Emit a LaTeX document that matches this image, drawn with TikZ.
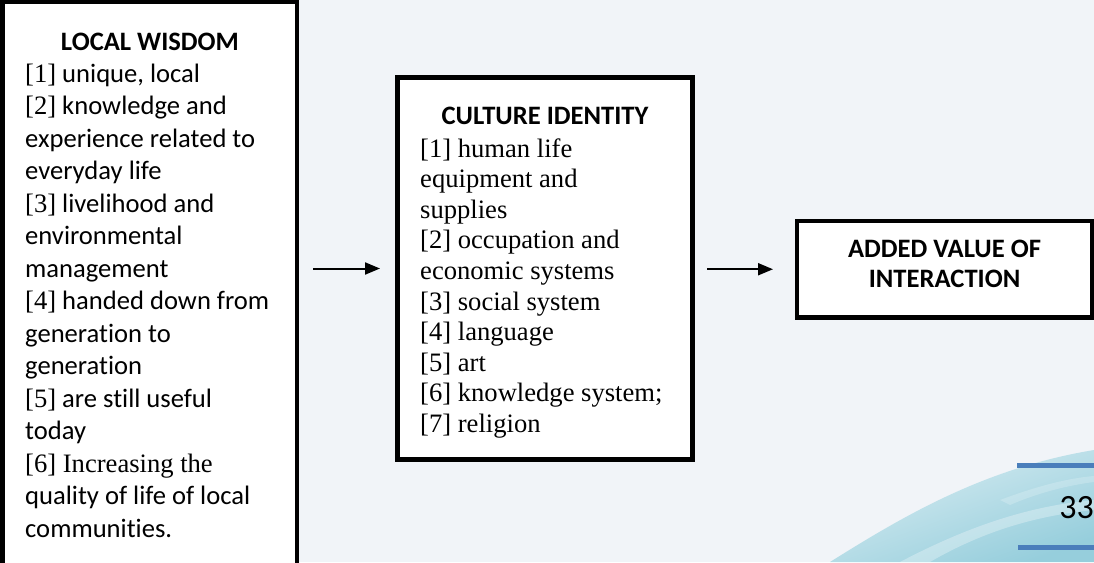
\documentclass[tikz,border=0pt]{standalone}
\usepackage{fontspec}
\setmainfont{Carlito}[Ligatures=NoCommon]
\newfontfamily\tnr{Liberation Serif}[Ligatures=NoCommon]
\usetikzlibrary{arrows.meta}

\definecolor{slidebg}{RGB}{241,244,248}
\definecolor{rulerblue}{RGB}{74,126,187}
\definecolor{waveA}{RGB}{222,239,244}
\definecolor{waveB}{RGB}{150,206,220}

\begin{document}
\begin{tikzpicture}[x=1pt,y=-1pt,
  panel/.style={draw=black, line width=4.5pt, fill=white, inner sep=0pt,
    outer sep=0pt, line join=miter},
  heading/.style={anchor=base, inner sep=0pt, font=\fontsize{26.6}{32}\selectfont\bfseries},
  item/.style={anchor=base west, inner sep=0pt, font=\fontsize{26.6}{32}\selectfont},
  titem/.style={item, font=\fontsize{26.6}{32}\selectfont\tnr},
  flow/.style={line width=2pt, -{Triangle[length=15pt,width=12pt]}},
  ruler/.style={draw=rulerblue, line width=5.6pt}]

% slide background
\useasboundingbox (0,0) rectangle (1094,562);
\clip (0,0) rectangle (1094,562);
\fill[slidebg] (0,0) rectangle (1094,562);

% decorative wave in the lower right corner
\begin{scope}
  \clip (830,562) .. controls (905,515) and (985,468) .. (1094,450) -- (1094,562) -- cycle;
  \shade[top color=waveA, bottom color=waveB, shading angle=20] (830,440) rectangle (1094,562);
  \fill[white, opacity=0.3] (900,562) .. controls (980,520) and (1040,505) .. (1094,500)
    -- (1094,510) .. controls (1040,515) and (985,530) .. (930,562) -- cycle;
  \fill[white, opacity=0.2] (1000,500) .. controls (1040,485) and (1070,478) .. (1094,476)
    -- (1094,482) .. controls (1070,485) and (1040,492) .. (1010,505) -- cycle;
\end{scope}

% page number and rules
\draw[ruler] (1017,465.5) coordinate (r1a) -- (1094,465.5) coordinate (r1b);
\draw[ruler] (1018,547.5) coordinate (r2a) -- (1094,547.5) coordinate (r2b);
\node[anchor=base east, inner sep=0pt, font=\fontsize{34}{40}\selectfont] (pagenum) at (1094,518.3) {33};

% boxes
\node[panel, minimum width=294.5pt, minimum height=573pt] (lw) at (149.75,288.5) {};
\node[panel, minimum width=295pt, minimum height=382pt] (ci) at (545,268.5) {};
\node[panel, minimum width=295pt, minimum height=96.5pt] (av) at (944.5,269.25) {};

% local wisdom
\node[heading] (lwt) at (150,50) {LOCAL WISDOM};
\node[item] (lw1) at (25,82) {{\tnr[1]} unique, local};
\node[item] (lw2) at (25,114.5) {{\tnr[2]} knowledge and};
\node[item] (lw3) at (25,147) {experience related to};
\node[item] (lw4) at (25,179.5) {everyday life};
\node[item] (lw5) at (25,212) {{\tnr[3]} livelihood and};
\node[item] (lw6) at (25,244.5) {environmental};
\node[item] (lw7) at (25,277) {management};
\node[item] (lw8) at (25,309.5) {{\tnr[4]} handed down from};
\node[item] (lw9) at (25,342) {generation to};
\node[item] (lw10) at (25,374.5) {generation};
\node[item] (lw11) at (25,407) {{\tnr[5]} are still useful};
\node[item] (lw12) at (25,439.5) {today};
\node[titem] (lw13) at (25,472) {[6] Increasing the};
\node[item] (lw14) at (25,504.5) {quality of life of local};
\node[item] (lw15) at (25,537) {communities.};

% culture identity
\node[heading] (cit) at (545,124) {CULTURE IDENTITY};
\node[titem] (ci1) at (420,157) {[1] human life};
\node[titem] (ci2) at (420,187.6) {equipment and};
\node[titem] (ci3) at (420,218.2) {supplies};
\node[titem] (ci4) at (420,248.8) {[2] occupation and};
\node[titem] (ci5) at (420,279.4) {economic systems};
\node[titem] (ci6) at (420,310) {[3] social system};
\node[titem] (ci7) at (420,340.6) {[4] language};
\node[titem] (ci8) at (420,371.2) {[5] art};
\node[titem] (ci9) at (420,401.8) {[6] knowledge system;};
\node[titem] (ci10) at (420,432.4) {[7] religion};

% added value
\node[heading] (avt1) at (944.5,257.5) {ADDED VALUE OF};
\node[heading] (avt2) at (944.5,287) {INTERACTION};

% flow arrows
\draw[flow, shorten <=16pt, shorten >=17.5pt] (ci.west -| lw.east) -- (ci.west);
\draw[flow, shorten <=14.5pt, shorten >=24pt] (av.west -| ci.east) -- (av.west);
\end{tikzpicture}
\end{document}
